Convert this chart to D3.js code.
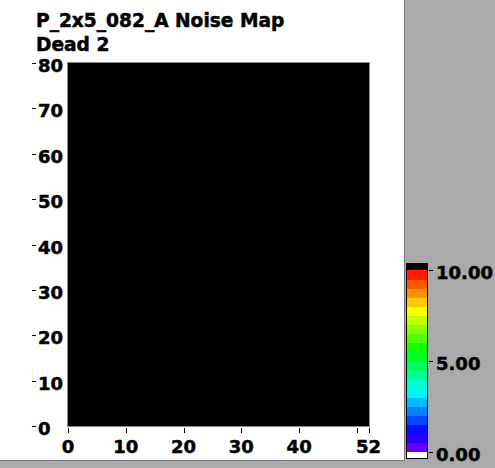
<!DOCTYPE html>
<html>
<head>
<meta charset="utf-8">
<script src="https://cdn.jsdelivr.net/npm/d3@7"></script>
<style>
  body { margin: 0; background: #aaaaaa; }
  svg { display: block; }
  text { font-family: "DejaVu Sans", Verdana, sans-serif; font-weight: bold; font-size: 18px; fill: #000; stroke: #000; stroke-width: 0.5px; }
  text.title { font-size: 18.6px; }
</style>
</head>
<body>
<svg id="chart" width="495" height="468"></svg>
<script>
// chart values
const title = "P_2x5_082_A Noise Map"
const subtitle = "Dead 2"
const xTicks = [0, 10, 20, 30, 40, 50, 52]
const xTickLabels = ["0", "10", "20", "30", "40", "", "52"]
const yTicks = [0, 10, 20, 30, 40, 50, 60, 70, 80]
const cbTicks = [0, 5, 10]
const cbTickLabels = ["0.00", "5.00", "10.00"]
const nCols = 52
const nRows = 80
// every pixel in this map reads as dead (no noise value)
const deadRows = d3.range(nRows)
const deadCols = d3.range(nCols)

const svg = d3.select("#chart")

// white panel with darker edge
svg.append("rect").attr("x", 0).attr("y", 0).attr("width", 404).attr("height", 460).attr("fill", "#fff")
svg.append("line").attr("x1", 404.5).attr("x2", 404.5).attr("y1", 0).attr("y2", 460.5).attr("stroke", "#777")
svg.append("line").attr("x1", 0).attr("x2", 404.5).attr("y1", 460.5).attr("y2", 460.5).attr("stroke", "#777")

svg.append("text").attr("class", "title").attr("x", 36).attr("y", 27).text(title)
svg.append("text").attr("class", "title").attr("x", 36).attr("y", 51).text(subtitle)

const xScale = d3.scaleLinear().domain([0, nCols]).range([68, 368.5])
const yScale = d3.scaleLinear().domain([0, nRows]).range([426, 63])

// cells
const cells = d3.cross(deadCols, deadRows).map(([c, r]) => ({c, r, v: null}))
const map = svg.append("g").attr("shape-rendering", "crispEdges")
map.append("rect")
  .attr("x", xScale(0)).attr("y", yScale(nRows))
  .attr("width", xScale(nCols) - xScale(0)).attr("height", yScale(0) - yScale(nRows))
  .attr("fill", "#000")
map.selectAll("rect.cell")
  .data(cells)
  .join("rect")
  .attr("class", "cell")
  .attr("x", d => xScale(d.c))
  .attr("y", d => yScale(d.r + 1))
  .attr("width", xScale(1) - xScale(0) + 0.5)
  .attr("height", yScale(0) - yScale(1) + 0.5)
  .attr("fill", "#000")
map.append("rect")
  .attr("x", xScale(0) - 0.5).attr("y", yScale(nRows) - 0.5)
  .attr("width", xScale(nCols) - xScale(0) + 1).attr("height", yScale(0) - yScale(nRows) + 1)
  .attr("fill", "none").attr("stroke", "#888")

// x axis
const xg = svg.append("g")
xg.selectAll("line")
  .data(xTicks)
  .join("line")
  .attr("x1", d => Math.round(xScale(d)) + 0.5).attr("x2", d => Math.round(xScale(d)) + 0.5)
  .attr("y1", 428).attr("y2", 433)
  .attr("stroke", "#000")
xg.selectAll("text")
  .data(xTicks)
  .join("text")
  .attr("x", d => xScale(d))
  .attr("y", 453)
  .attr("text-anchor", "middle")
  .text((d, i) => xTickLabels[i])

// y axis: tick dash sits left of the label
const yg = svg.append("g")
yg.selectAll("line")
  .data(yTicks)
  .join("line")
  .attr("x1", 32).attr("x2", 36)
  .attr("y1", d => Math.round(yScale(d)) + 0.5).attr("y2", d => Math.round(yScale(d)) + 0.5)
  .attr("stroke", "#000")
yg.selectAll("text")
  .data(yTicks)
  .join("text")
  .attr("x", 38)
  .attr("y", d => yScale(d) + 9)
  .text(d => d)

// colour bar
const nBands = 20
const cbScale = d3.scaleLinear().domain([0, 10]).range([452, 270])
const bandColor = i => d3.hsl(270 - 270 * (i + 0.5) / nBands, 1, 0.5).toString()
const cb = svg.append("g").attr("shape-rendering", "crispEdges")
cb.selectAll("rect.band")
  .data(d3.range(nBands))
  .join("rect")
  .attr("class", "band")
  .attr("x", 407).attr("width", 20)
  .attr("y", i => cbScale(10 * (i + 1) / nBands))
  .attr("height", i => cbScale(10 * i / nBands) - cbScale(10 * (i + 1) / nBands) + 0.5)
  .attr("fill", bandColor)
cb.append("rect").attr("x", 407).attr("width", 20).attr("y", 264).attr("height", cbScale(10) - 264).attr("fill", "#000")
cb.append("rect").attr("x", 407).attr("width", 20).attr("y", cbScale(0)).attr("height", 6).attr("fill", "#fff")
cb.append("rect").attr("x", 406.5).attr("y", 263.5).attr("width", 21).attr("height", cbScale(0) + 6 - 263)
  .attr("fill", "none").attr("stroke", "#000")
cb.selectAll("line.tick")
  .data(cbTicks)
  .join("line")
  .attr("class", "tick")
  .attr("x1", 429).attr("x2", 433)
  .attr("y1", d => Math.round(cbScale(d)) + 0.5).attr("y2", d => Math.round(cbScale(d)) + 0.5)
  .attr("stroke", "#000")
svg.selectAll("text.cb")
  .data(cbTicks)
  .join("text")
  .attr("class", "cb")
  .attr("x", 436)
  .attr("y", d => cbScale(d) + 9)
  .text((d, i) => cbTickLabels[i])
</script>
</body>
</html>
